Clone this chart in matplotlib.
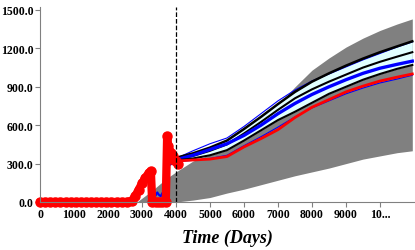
import matplotlib
matplotlib.use("Agg")
import matplotlib.pyplot as plt

# Historique (rouge = observé, bleu = simulé)
hist_days = [0, 150, 300, 450, 600, 750, 900, 1050, 1200, 1350, 1500, 1650, 1800, 1950,
             2100, 2250, 2400, 2550, 2700, 2800, 2900, 3000, 3100, 3200, 3260, 3300,
             3400, 3500, 3600, 3700, 3740, 3760, 3800, 3850, 3900, 3950, 4000, 4050]
hist_red = [0, 0, 0, 0, 0, 0, 0, 0, 0, 0, 0, 0, 0, 0,
            0, 0, 0, 0, 10, 45, 95, 145, 190, 225, 240, 0,
            0, 0, 0, 0, 515, 440, 400, 380, 360, 330, 320, 300]
blue_hist_days = [3100, 3200, 3260, 3300, 3320, 3400, 3450, 3500, 3550, 3600, 3650, 3700, 3730, 3750, 3850, 3950, 4000]
blue_hist = [180, 220, 235, 200, 60, 50, 75, 55, 45, 70, 45, 55, 60, 280, 295, 305, 310]

# Prévisions
fc_days = [4000, 4500, 5000, 5500, 6000, 6500, 7000, 7500, 8000, 8500, 9000, 9500, 10000, 10500, 10950]
black_hi = [345, 380, 425, 480, 570, 665, 765, 860, 940, 1005, 1065, 1120, 1170, 1215, 1255]
black_mid = [335, 360, 400, 450, 535, 625, 720, 810, 880, 940, 995, 1050, 1095, 1135, 1170]
black_lo = [325, 340, 365, 405, 480, 560, 640, 705, 775, 845, 900, 955, 1000, 1040, 1070]
blue_mid = [330, 365, 410, 455, 520, 600, 690, 770, 840, 900, 955, 1005, 1045, 1075, 1100]
blue_hi = [340, 400, 455, 500, 590, 690, 790, 875, 945, 1000, 1055, 1110, 1160, 1210, 1250]
blue_lo = [315, 325, 340, 365, 440, 510, 585, 665, 735, 790, 845, 890, 930, 960, 990]
red_fc = [320, 328, 335, 355, 430, 495, 565, 660, 740, 800, 860, 905, 945, 975, 1000]

# Enveloppe grise
band_days = [2850, 3300, 3700, 4000, 4500, 5000, 5500, 6000, 6500, 7000, 7500, 8000,
             8500, 9000, 9500, 10000, 10500, 10950]
band_hi = [0, 90, 180, 235, 320, 370, 430, 500, 620, 760, 900, 1030,
           1125, 1210, 1280, 1340, 1390, 1430]
band_lo = [0, 0, 0, 0, 15, 35, 70, 100, 135, 170, 205, 235,
           265, 300, 335, 360, 385, 400]

xticks = [0, 1000, 2000, 3000, 4000, 5000, 6000, 7000, 8000, 9000, 10000]
xlabels = ["0", "1000", "2000", "3000", "4000", "5000", "6000", "7000", "8000", "9000", "10..."]
yticks = [0, 300, 600, 900, 1200, 1500]
ylabels = ["0.0", "300.0", "600.0", "900.0", "1200.0", "1500.0"]

plt.rcParams["font.family"] = "Liberation Serif"

fig = plt.figure(figsize=(4.15, 2.51), dpi=100)
ax = fig.add_axes([40 / 415, 48 / 251, 374 / 415, 195 / 251])

ax.fill_between(band_days, band_lo, band_hi, color="#808080", lw=0)
ax.fill_between(fc_days, black_lo, black_hi, color="#e0ffff", lw=0)

for s in [blue_hi, blue_lo]:
    ax.plot(fc_days, s, color="blue", lw=0.8)
ax.plot(fc_days, black_hi, color="black", lw=1.8)
ax.plot(fc_days, black_mid, color="black", lw=1.5)
ax.plot(fc_days, blue_mid, color="blue", lw=2.4)
ax.plot(fc_days, black_lo, color="black", lw=1.5)
ax.plot(fc_days, red_fc, color="red", lw=2.0)

ax.plot(blue_hist_days, blue_hist, color="blue", lw=1.5)
ax.plot(hist_days, hist_red, color="red", lw=6, marker="o", ms=6.5,
        solid_capstyle="round", solid_joinstyle="round", clip_on=False)

ax.axvline(4000, color="black", lw=0.9, ls="--")

ax.set_xlim(0, 11000)
ax.set_ylim(0, 1523)
ax.set_xticks(xticks)
ax.set_xticklabels(xlabels, fontweight="bold", fontsize=8.5)
ax.set_yticks(yticks)
ax.set_yticklabels(ylabels, fontweight="bold", fontsize=8.5)
ax.set_xlabel("Time (Days)", fontweight="bold", fontstyle="italic", fontsize=13, labelpad=6)

for side in ["top", "right"]:
    ax.spines[side].set_visible(False)
for side in ["left", "bottom"]:
    ax.spines[side].set_color("#808080")
    ax.spines[side].set_linewidth(0.8)
ax.tick_params(colors="#808080", labelcolor="black", length=3.5, width=0.8, pad=1)

fig.savefig("out.png", dpi=100)
